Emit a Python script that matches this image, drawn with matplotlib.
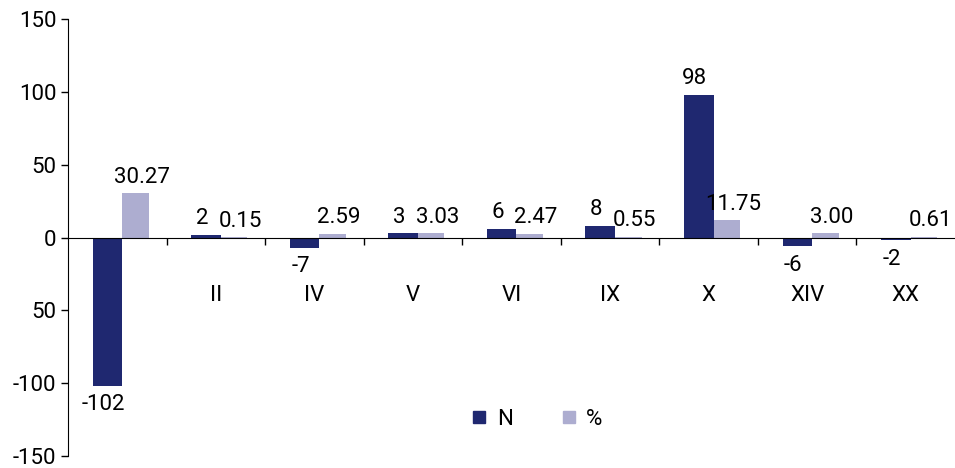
import matplotlib.pyplot as plt
from matplotlib.lines import Line2D
import numpy as np

plt.rcParams['font.family'] = ['Roboto', 'DejaVu Sans']

categories = ['I', 'II', 'IV', 'V', 'VI', 'IX', 'X', 'XIV', 'XX']
n_values = [-102, 2, -7, 3, 6, 8, 98, -6, -2]
pct_values = [30.27, 0.15, 2.59, 3.03, 2.47, 0.55, 11.75, 3.00, 0.61]
y_ticks = [-150, -100, -50, 0, 50, 100, 150]
y_labels = ['-150', '-100', '50', '0', '50', '100', '150']

dark = '#1F2870'
light = '#ADADD0'
fs = 16

fig = plt.figure(figsize=(9.55, 4.68), dpi=100)
ax = fig.add_axes([68 / 955, 12 / 468, 1 - 68 / 955, 437 / 468])

x = np.arange(len(categories))
ax.bar(x - 0.25, n_values, width=0.30, align='edge', color=dark, zorder=3)
ax.bar(x + 0.05, pct_values, width=0.27, align='edge', color=light, zorder=3)

# etiquetas de valores
for xi, v in zip(x, n_values):
    off = 4 if v >= 0 else -6
    ax.annotate(f'{v}', (xi - 0.14, v), xytext=(0, off), textcoords='offset points',
                ha='center', va='bottom' if v >= 0 else 'top', fontsize=fs)
for xi, v in zip(x, pct_values):
    ax.annotate(f'{v:.2f}', (xi + 0.25, v), xytext=(0, 4), textcoords='offset points',
                ha='center', va='bottom', fontsize=fs)

# nomes das categorias abaixo da linha do zero
for xi, c in zip(x, categories):
    ax.text(xi, -40, c, ha='center', va='center', fontsize=fs, zorder=1)

ax.set_xlim(-0.5, 8.5)
ax.set_ylim(-150, 150)
ax.set_yticks(y_ticks)
ax.set_yticklabels(y_labels, fontsize=fs)
ax.tick_params(axis='y', direction='out', length=5, width=1)

ax.set_xticks(np.arange(0.5, 8.5, 1))
ax.set_xticklabels([])
ax.tick_params(axis='x', direction='out', length=5, width=1)

ax.spines['top'].set_visible(False)
ax.spines['right'].set_visible(False)
ax.spines['bottom'].set_position(('data', 0))
ax.spines['bottom'].set_zorder(4)

handles = [
    Line2D([], [], marker='s', linestyle='none', color=dark, markersize=9),
    Line2D([], [], marker='s', linestyle='none', color=light, markersize=9),
]
ax.legend(handles, ['N', '%'], loc='center', bbox_to_anchor=(0.527, 0.084), ncol=2,
          frameon=False, fontsize=fs, handletextpad=0.3, columnspacing=2.0,
          handlelength=1.0)

plt.savefig('out.png', dpi=100)
